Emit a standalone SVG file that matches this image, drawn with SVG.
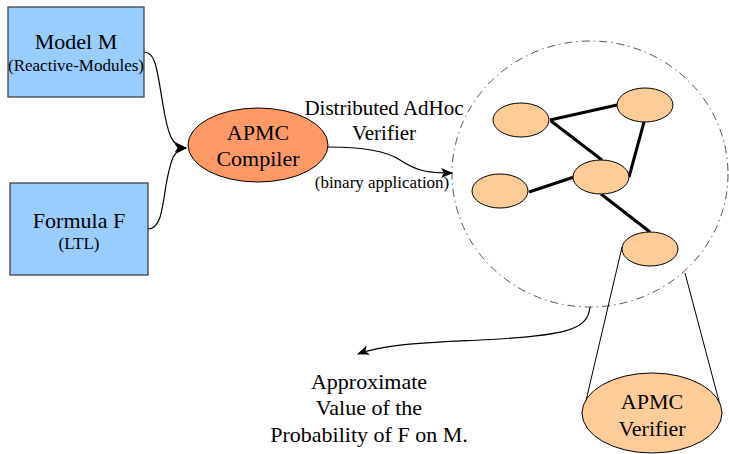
<svg xmlns="http://www.w3.org/2000/svg" width="729" height="454" viewBox="0 0 729 454">
  <style>
    text { font-family: "Liberation Serif", "Times New Roman", serif; fill: #000; text-anchor: middle; }
    .big { font-size: 22px; }
    .mid { font-size: 21px; }
    .small { font-size: 17px; }
    .sub { font-size: 17px; }
    .box { fill: #99ccff; stroke: #333; stroke-width: 1.2; }
    .peer { fill: #ffcc99; stroke: #000; stroke-width: 1; }
    .link { stroke: #000; stroke-width: 3; fill: none; }
    .thin { stroke: #000; stroke-width: 1; fill: none; }
    .flow { stroke: #000; stroke-width: 1.2; fill: none; marker-end: url(#arrow); }
  </style>
  <defs>
    <marker id="arrow" viewBox="0 0 12 10" refX="11" refY="5" markerWidth="12" markerHeight="10" markerUnits="userSpaceOnUse" orient="auto">
      <path d="M0,0 L12,5 L0,10 L3,5 Z" fill="#000"/>
    </marker>
  </defs>

  <rect width="729" height="454" fill="#fff"/>

  <!-- network cloud -->
  <g id="network">
    <ellipse cx="590" cy="174" rx="138" ry="133" fill="none" stroke="#555" stroke-width="1" stroke-dasharray="8,4,1.5,4"/>
  </g>

  <g id="connectors">
    <path class="flow" d="M144,52 C156,52 157,70 163,105 C168,135 172,147 186,148"/>
    <path class="flow" d="M148,229 C160,229 162,212 166,185 C171,158 174,149 186,148"/>
    <path class="flow" d="M328,147 C360,147 385,150 400,160 C418,172 430,173 452,173"/>
    <path class="flow" d="M590,307 C588,330 565,336 480,340 C420,343 385,344 358,354"/>
    <!-- peer links -->
    <line class="link" x1="550" y1="120" x2="617" y2="105"/>
    <line class="link" x1="551" y1="121" x2="602" y2="160"/>
    <line class="link" x1="644" y1="122" x2="629" y2="177"/>
    <line class="link" x1="529" y1="192" x2="574" y2="177"/>
    <line class="link" x1="601" y1="194" x2="650" y2="232"/>
    <!-- zoom cone -->
    <line class="thin" x1="622" y1="247" x2="585" y2="405"/>
    <line class="thin" x1="685" y1="273" x2="720" y2="405"/>
  </g>

  <g id="model">
    <rect class="box" x="8" y="7" width="136" height="90"/>
    <text class="big" x="76" y="49">Model M</text>
    <text class="sub" x="76" y="71">(Reactive-Modules)</text>
  </g>

  <g id="formula">
    <rect class="box" x="10" y="183" width="138" height="92"/>
    <text class="big" x="79" y="228">Formula F</text>
    <text class="small" x="79" y="249">(LTL)</text>
  </g>

  <g id="compiler">
    <ellipse cx="258" cy="145" rx="70" ry="37" fill="#ff9966" stroke="#000" stroke-width="1"/>
    <text class="big" x="258" y="140">APMC</text>
    <text class="big" x="258" y="166">Compiler</text>
  </g>

  <g id="verifier-label">
    <text class="mid" x="384" y="115">Distributed AdHoc</text>
    <text class="mid" x="384" y="140">Verifier</text>
    <text class="small" x="382" y="188">(binary application)</text>
  </g>

  <g id="peer1"><ellipse class="peer" cx="521" cy="120" rx="28" ry="17"/></g>
  <g id="peer2"><ellipse class="peer" cx="645" cy="105" rx="28" ry="17"/></g>
  <g id="peer3"><ellipse class="peer" cx="601" cy="177" rx="28" ry="17"/></g>
  <g id="peer4"><ellipse class="peer" cx="500" cy="191" rx="28" ry="17"/></g>
  <g id="peer5"><ellipse class="peer" cx="650" cy="249" rx="28" ry="17"/></g>

  <g id="apmc-verifier">
    <ellipse class="peer" cx="652" cy="413" rx="70" ry="40"/>
    <text class="big" x="652" y="409">APMC</text>
    <text class="big" x="652" y="436">Verifier</text>
  </g>

  <g id="result">
    <text class="big" x="369" y="389">Approximate</text>
    <text class="big" x="369" y="415">Value of the</text>
    <text class="big" x="369" y="442">Probability of F on M.</text>
  </g>
</svg>
